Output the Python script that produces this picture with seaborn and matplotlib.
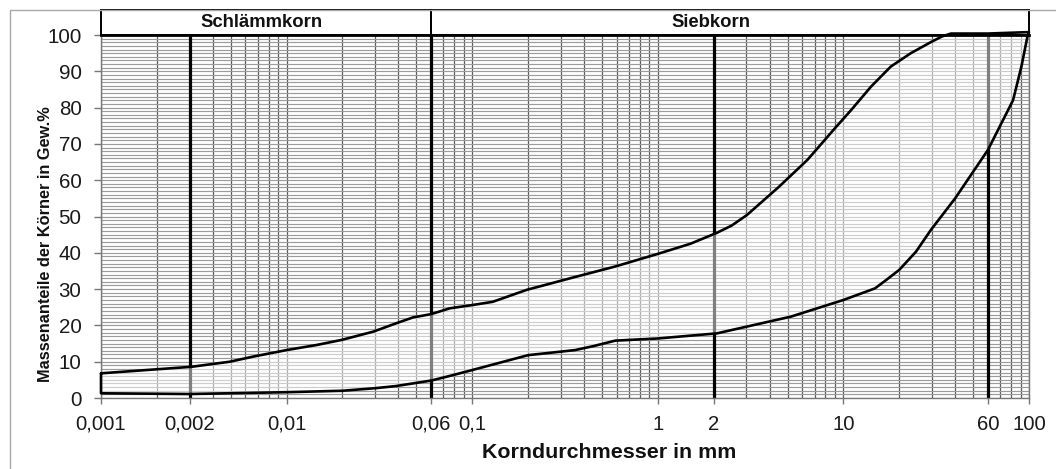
import numpy as np
import pandas as pd
import matplotlib
matplotlib.use("Agg")
import matplotlib.pyplot as plt
import seaborn as sns
from matplotlib.ticker import FixedLocator, FixedFormatter, LogLocator, MultipleLocator, NullFormatter
from matplotlib.patches import Rectangle
import matplotlib.transforms as mtransforms

# ---------------- data ----------------
upper_d = [0.001, 0.00308, 0.00495, 0.0066, 0.01, 0.0145, 0.0198, 0.0294, 0.039, 0.048,
           0.06, 0.0757, 0.1, 0.129, 0.197, 0.35, 0.587, 1.0, 1.5, 2.08, 2.5, 3.02, 4.5, 6.4,
           9.0, 11.0, 14.1, 18.0, 23.1, 30.0, 34.0, 38.0, 60.0, 100.0]
upper_p = [6.8, 8.6, 10.0, 11.4, 13.2, 14.6, 16.0, 18.3, 20.6, 22.2,
           23.1, 24.7, 25.6, 26.5, 29.8, 33.2, 36.2, 39.7, 42.5, 45.5, 47.5, 50.4, 58.2, 65.6,
           74.3, 79.3, 85.8, 91.3, 95.0, 98.2, 99.6, 100.4, 100.4, 100.8]

lower_d = [0.001, 0.003, 0.01, 0.02, 0.03, 0.039, 0.06, 0.076, 0.1, 0.2, 0.358, 0.45,
           0.59, 1.0, 2.08, 5.2, 10.0, 14.8, 17.0, 20.0, 24.6, 29.6, 40.0, 60.0, 82.0, 91.0,
           98.0, 100.0]
lower_p = [1.3, 1.1, 1.6, 2.0, 2.7, 3.3, 4.8, 6.1, 7.7, 11.8, 13.2, 14.3,
           15.8, 16.4, 17.8, 22.4, 27.0, 30.2, 32.5, 35.3, 40.3, 46.3, 55.0, 68.3, 82.0, 91.3,
           99.5, 100.8]

boundaries = [0.003, 0.06, 2, 60]          # thick class-boundary lines
xtick_pos = [0.001, 0.003, 0.01, 0.06, 0.1, 1, 2, 10, 60, 100]
xtick_lab = ["0,001", "0,002", "0,01", "0,06", "0,1", "1", "2", "10", "60", "100"]
ytick_pos = list(range(0, 101, 10))
headers = ["Schlämmkorn", "Siebkorn"]
header_edges = [0.001, 0.06, 100]

# ---------------- style ----------------
sns.set_theme(style="white")
plt.rcParams["font.family"] = ["Liberation Sans", "DejaVu Sans"]

W, H = 1056, 469
fig = plt.figure(figsize=(W / 100, H / 100), dpi=100)
L, R, B, T = 101, 1029, 398, 35
ax = fig.add_axes([L / W, 1 - B / H, (R - L) / W, (B - T) / H])

ax.set_xscale("log")
ax.set_xlim(0.001, 100)
ax.set_ylim(0, 100)

# grid
ax.xaxis.set_major_locator(FixedLocator(xtick_pos))
ax.xaxis.set_major_formatter(FixedFormatter(xtick_lab))
ax.xaxis.set_minor_locator(LogLocator(base=10, subs=np.arange(1, 10), numticks=100))
ax.xaxis.set_minor_formatter(NullFormatter())
ax.yaxis.set_major_locator(FixedLocator(ytick_pos))
ax.yaxis.set_minor_locator(MultipleLocator(1))
ax.set_axisbelow(True)
ax.xaxis.grid(True, which="both", color="#5c5c5c", lw=0.9, zorder=1)
ax.yaxis.grid(True, which="both", color="#9c9c9c", lw=0.85, zorder=1)

ax.tick_params(which="minor", length=0)
ax.tick_params(axis="x", which="major", length=4, width=1, color="#777777",
               labelsize=14.6, pad=8, labelcolor="#1a1a1a", direction="out", bottom=True)
ax.tick_params(axis="y", which="major", length=5, width=1, color="#777777",
               labelsize=14.8, pad=9, labelcolor="#1a1a1a", direction="out", left=True)

for s in ["left", "right", "bottom"]:
    ax.spines[s].set_color("#777777")
    ax.spines[s].set_linewidth(1.0)
ax.spines["top"].set_color("black")
ax.spines["top"].set_linewidth(2.0)
ax.spines["top"].set_zorder(6)

# thick boundary lines
for b in boundaries:
    ax.axvline(b, color="black", lw=2.3, zorder=2)

# band polygon (upper forward, lower backward)
poly = pd.DataFrame({
    "d": list(upper_d) + list(lower_d[::-1]) + [upper_d[0]],
    "p": list(upper_p) + list(lower_p[::-1]) + [upper_p[0]],
})
ax.fill(poly["d"], poly["p"], color="white", alpha=0.5, lw=0, zorder=3)
sns.lineplot(data=poly, x="d", y="p", sort=False, estimator=None, color="black",
             lw=1.9, ax=ax, zorder=4, clip_on=False)
for line in ax.lines[-1:]:
    line.set_solid_joinstyle("round")
ax.set_xlabel("")
ax.set_ylabel("")

# header boxes
trans = mtransforms.blended_transform_factory(ax.transData, ax.transAxes)
h_top = (B - 10) / (B - T)
for i, name in enumerate(headers):
    x0, x1 = header_edges[i], header_edges[i + 1]
    ax.add_patch(Rectangle((x0, 1.0), x1 - x0, h_top - 1.0, transform=trans,
                           fill=False, edgecolor="black", lw=1.4, clip_on=False, zorder=7))
ax.text((262 - L) / (R - L), (B - 22) / (B - T), headers[0], transform=ax.transAxes,
        ha="center", va="center", fontsize=13.3, fontweight="bold", color="#111111")
ax.text((711 - L) / (R - L), (B - 22) / (B - T), headers[1], transform=ax.transAxes,
        ha="center", va="center", fontsize=13.3, fontweight="bold", color="#111111")

# axis labels
fig.text(609 / W, 1 - 452 / H, "Korndurchmesser in mm", ha="center", va="center",
         fontsize=15.4, fontweight="bold", color="#111111")
fig.text(46 / W, 1 - 244 / H, "Massenanteile der Körner in Gew.%", ha="center", va="center",
         rotation=90, fontsize=11.8, fontweight="bold", color="#111111")

# outer frame
fig.add_artist(Rectangle((10 / W, -0.1), 1.2, (H - 10) / H + 0.1, transform=fig.transFigure,
                         fill=False, edgecolor="#a8a8a8", lw=1.0))

fig.savefig("out.png", dpi=100)
